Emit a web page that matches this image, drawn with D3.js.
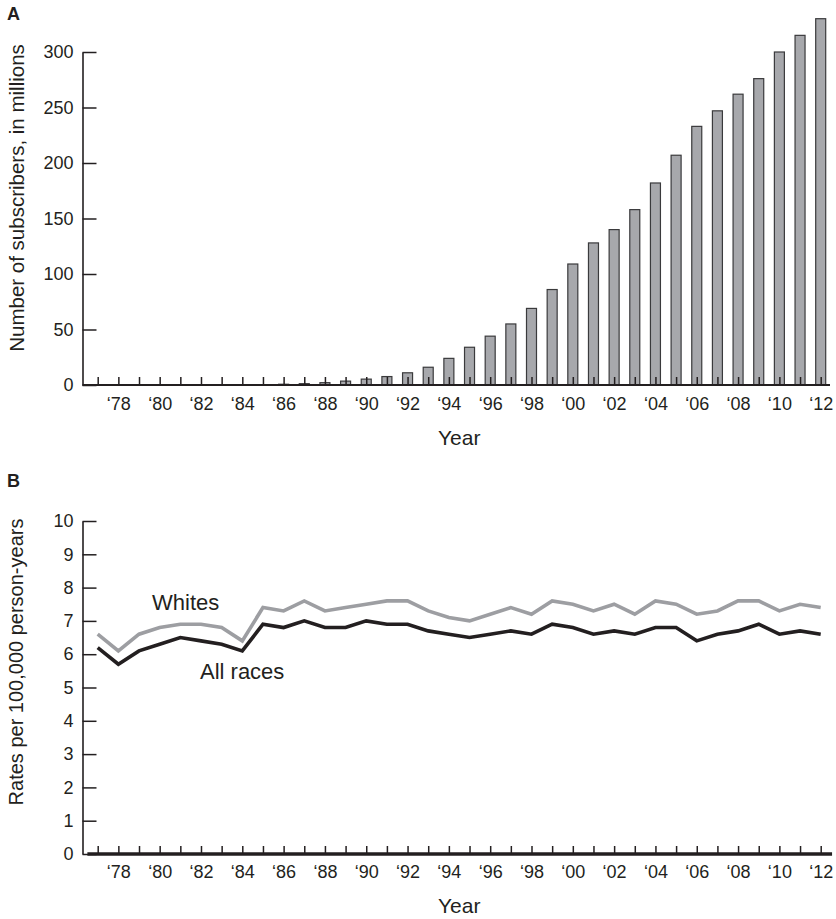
<!DOCTYPE html>
<html>
<head>
<meta charset="utf-8">
<script src="https://cdn.jsdelivr.net/npm/d3@7"></script>
<style>
  html, body { margin: 0; padding: 0; background: #fff; }
  svg text { font-family: "Liberation Sans", Arial, Helvetica, sans-serif; fill: #231f20; }
</style>
</head>
<body>
<div id="chart"></div>
<script>
// Panel A: subscribers (millions) per year; panel B: rates per 100,000 person-years
const years = d3.range(1977, 2013);
const subscribers = [0, 0, 0, 0, 0, 0, 0, 0, 0.34, 0.68, 1.2, 2.1, 3.5, 5.3, 7.6, 11,
  16, 24, 34, 44, 55, 69, 86, 109, 128, 140, 158, 182, 207, 233, 247, 262, 276, 300, 315, 330];
const whites = [6.6, 6.1, 6.6, 6.8, 6.9, 6.9, 6.8, 6.4, 7.4, 7.3, 7.6, 7.3, 7.4, 7.5, 7.6, 7.6,
  7.3, 7.1, 7.0, 7.2, 7.4, 7.2, 7.6, 7.5, 7.3, 7.5, 7.2, 7.6, 7.5, 7.2, 7.3, 7.6, 7.6, 7.3, 7.5, 7.4];
const allRaces = [6.2, 5.7, 6.1, 6.3, 6.5, 6.4, 6.3, 6.1, 6.9, 6.8, 7.0, 6.8, 6.8, 7.0, 6.9, 6.9,
  6.7, 6.6, 6.5, 6.6, 6.7, 6.6, 6.9, 6.8, 6.6, 6.7, 6.6, 6.8, 6.8, 6.4, 6.6, 6.7, 6.9, 6.6, 6.7, 6.6];
const subTicks = [0, 50, 100, 150, 200, 250, 300];
const rateTicks = d3.range(0, 11);

const INK = '#231f20';
const BAR = '#a7a8ac';
const GREY_LINE = '#9d9ea2';

const W = 836, H = 919;
const axisX = 82.5;

const svg = d3.select('#chart').append('svg')
  .attr('width', W).attr('height', H)
  .attr('viewBox', `0 0 ${W} ${H}`);

const x = d3.scaleLinear().domain([1977, 2012]).range([97.7, 820.7]);
const yearLabel = d => (d % 2 === 0 ? '\u2018' + String(d).slice(2) : '');

function styleAxis(g, width) {
  g.selectAll('line').attr('stroke', INK).attr('stroke-width', width);
  g.selectAll('.domain').attr('stroke', INK).attr('stroke-width', 1.6);
  g.selectAll('text').attr('font-size', 18).attr('fill', INK)
    .attr('font-family', '"Liberation Sans", Arial, sans-serif');
}

// ---------- Panel A ----------
const yA = d3.scaleLinear().domain([0, 300]).range([385, 52]);
const gA = svg.append('g');

gA.selectAll('rect.bar')
  .data(years.map((yr, i) => ({ yr, v: subscribers[i] })).filter(d => d.v > 0))
  .join('rect')
  .attr('class', 'bar')
  .attr('x', d => x(d.yr) - 5)
  .attr('width', 10)
  .attr('y', d => yA(d.v))
  .attr('height', d => yA(0) - yA(d.v))
  .attr('fill', BAR)
  .attr('stroke', '#3a3a3c')
  .attr('stroke-width', 1.2);

const yAxisA = gA.append('g')
  .attr('transform', `translate(${axisX},0)`)
  .call(d3.axisLeft(yA).tickValues(subTicks).tickSizeInner(-14).tickSizeOuter(0).tickPadding(9));
styleAxis(yAxisA, 1.5);

const xAxisA = gA.append('g')
  .attr('transform', `translate(0,${yA(0)})`)
  .call(d3.axisBottom(x).tickValues(years).tickFormat(yearLabel).tickSizeInner(-8).tickSizeOuter(0).tickPadding(12));
xAxisA.select('.domain').remove();
styleAxis(xAxisA, 1.5);
gA.append('line')
  .attr('x1', axisX).attr('x2', x(2012.45))
  .attr('y1', yA(0)).attr('y2', yA(0))
  .attr('stroke', INK).attr('stroke-width', 2.2);

gA.append('text').attr('x', (x(1977) + x(2012)) / 2).attr('y', 445)
  .attr('text-anchor', 'middle').attr('font-size', 21).text('Year');
gA.append('text').attr('transform', `translate(24,198) rotate(-90)`)
  .attr('text-anchor', 'middle').attr('font-size', 20.5).text('Number of subscribers, in millions');
gA.append('text').attr('x', 7).attr('y', 20)
  .attr('font-size', 18).attr('font-weight', 'bold').text('A');

// ---------- Panel B ----------
const yB = d3.scaleLinear().domain([0, 10]).range([854, 521]);
const gB = svg.append('g');

const yAxisB = gB.append('g')
  .attr('transform', `translate(${axisX},0)`)
  .call(d3.axisLeft(yB).tickValues(rateTicks).tickSizeInner(-14).tickSizeOuter(0).tickPadding(9));
styleAxis(yAxisB, 1.5);

const xAxisB = gB.append('g')
  .attr('transform', `translate(0,${yB(0)})`)
  .call(d3.axisBottom(x).tickValues(years).tickFormat(yearLabel).tickSizeInner(-8).tickSizeOuter(0).tickPadding(11));
xAxisB.select('.domain').remove();
styleAxis(xAxisB, 1.5);
gB.append('line')
  .attr('x1', x(1976.5)).attr('x2', x(2012.55))
  .attr('y1', yB(0)).attr('y2', yB(0))
  .attr('stroke', INK).attr('stroke-width', 3.5);

const line = d3.line().x(d => x(d.yr)).y(d => yB(d.v));
gB.append('path')
  .datum(years.map((yr, i) => ({ yr, v: whites[i] })))
  .attr('d', line).attr('fill', 'none')
  .attr('stroke', GREY_LINE).attr('stroke-width', 3.6).attr('stroke-linejoin', 'miter');
gB.append('path')
  .datum(years.map((yr, i) => ({ yr, v: allRaces[i] })))
  .attr('d', line).attr('fill', 'none')
  .attr('stroke', INK).attr('stroke-width', 3.6).attr('stroke-linejoin', 'miter');

gB.append('text').attr('x', 152).attr('y', 610).attr('font-size', 22).text('Whites');
gB.append('text').attr('x', 200).attr('y', 679).attr('font-size', 22).text('All races');

gB.append('text').attr('x', (x(1977) + x(2012)) / 2).attr('y', 913)
  .attr('text-anchor', 'middle').attr('font-size', 21).text('Year');
gB.append('text').attr('transform', `translate(23,662) rotate(-90)`)
  .attr('text-anchor', 'middle').attr('font-size', 20).text('Rates per 100,000 person-years');
gB.append('text').attr('x', 7).attr('y', 487)
  .attr('font-size', 18).attr('font-weight', 'bold').text('B');
</script>
</body>
</html>
